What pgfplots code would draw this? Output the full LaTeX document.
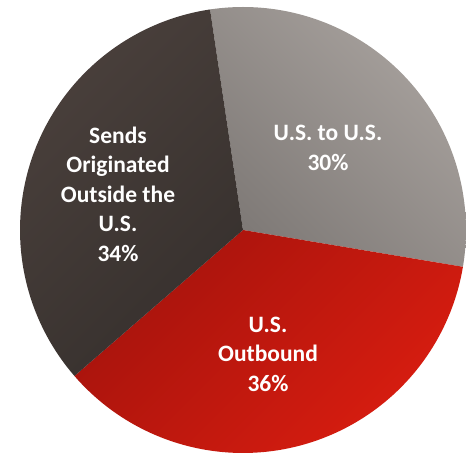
\documentclass[border=0pt]{standalone}
\usepackage{fontspec}
\setmainfont{Carlito}
\usepackage{pgfplots}
\pgfplotsset{compat=1.18}
\definecolor{grayL}{HTML}{A8A29E}
\definecolor{grayD}{HTML}{7F7A77}
\definecolor{redL}{HTML}{D91D10}
\definecolor{redD}{HTML}{A5130C}
\definecolor{darkL}{HTML}{4A403C}
\definecolor{darkD}{HTML}{36302D}
% slice values (percent)
\def\vUS{30}
\def\vOut{36}
\def\vSends{34}
\def\startang{98.5}
\pgfmathsetmacro{\aA}{\startang}
\pgfmathsetmacro{\aB}{\aA-3.6*\vUS}
\pgfmathsetmacro{\aC}{\aB-3.6*\vOut}
\pgfmathsetmacro{\aD}{\aC-3.6*\vSends}
\def\cx{243}
\def\cy{224}
\def\rr{223}
\begin{document}
\begin{tikzpicture}
\begin{axis}[scale only axis, width=466pt, height=454pt,
  xmin=0, xmax=466, ymin=0, ymax=454, ticks=none,
  axis line style={draw=none}, clip=true]
\addplot[draw=none, top color=grayL, bottom color=grayD, shading angle=-45,
  domain=\aB:\aA, samples=90] ({\cx+\rr*cos(x)},{\cy+\rr*sin(x)}) -- (axis cs:\cx,\cy) -- cycle;
\addplot[draw=none, top color=redD, bottom color=redL, shading angle=45,
  domain=\aC:\aB, samples=90] ({\cx+\rr*cos(x)},{\cy+\rr*sin(x)}) -- (axis cs:\cx,\cy) -- cycle;
\addplot[draw=none, top color=darkL, bottom color=darkD, shading angle=45,
  domain=\aD:\aC, samples=90] ({\cx+\rr*cos(x)},{\cy+\rr*sin(x)}) -- (axis cs:\cx,\cy) -- cycle;
\node[font=\fontsize{23.5}{29.5}\selectfont\bfseries, text=white, align=center]
  at (axis cs:118,260) {Sends\\Originated\\Outside the\\U.S.\\34\%};
\node[font=\fontsize{23.5}{29.5}\selectfont\bfseries, text=white, align=center]
  at (axis cs:328,306) {U.S. to U.S.\\30\%};
\node[font=\fontsize{23.5}{29.5}\selectfont\bfseries, text=white, align=center]
  at (axis cs:268,100) {U.S.\\Outbound\\36\%};
\end{axis}
\end{tikzpicture}
\end{document}
